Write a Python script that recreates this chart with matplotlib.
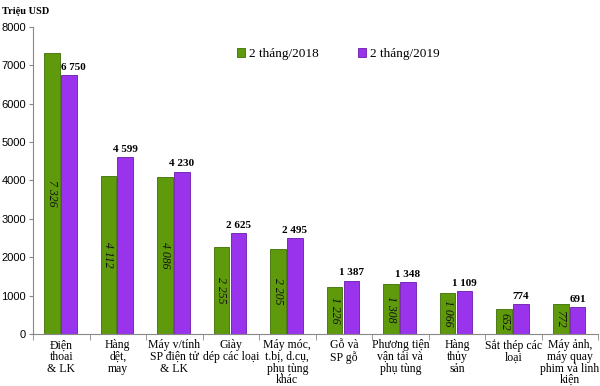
import matplotlib.pyplot as plt
import numpy as np

# Data
categories = ['Điện\nthoai\n& LK', 'Hàng\ndệt,\nmay', 'Máy v/tính\nSP điện tử\n& LK',
              'Giày\ndép các loại', 'Máy móc,\nt.bị, d.cụ,\nphụ tùng\nkhác', 'Gỗ và\nSP gỗ',
              'Phương tiện\nvận tải và\nphụ tùng', 'Hàng\nthủy\nsản', 'Sắt thép các\nloại',
              'Máy ảnh,\nmáy quay\nphim và linh\nkiện']
val_2018 = [7326, 4112, 4086, 2255, 2205, 1226, 1308, 1066, 652, 772]
val_2019 = [6750, 4599, 4230, 2625, 2495, 1387, 1348, 1109, 774, 691]
series_names = ['2 tháng/2018', '2 tháng/2019']

green = '#5e9a0c'
purple = '#9a34ec'
serif = 'Liberation Serif'

def fmt(v):
    return f'{v:,}'.replace(',', ' ')

fig = plt.figure(figsize=(6, 3.86), dpi=100)
ax = fig.add_axes([0.055, 0.135, 0.942, 0.795])

x = np.arange(len(categories))
w = 0.28
ax.bar(x - 0.165, val_2018, w, color=green, edgecolor='#3f6e05', linewidth=0.6,
       label=series_names[0])
ax.bar(x + 0.135, val_2019, w, color=purple, edgecolor='#6a1aa8', linewidth=0.6,
       label=series_names[1])

for xi, v in zip(x, val_2018):
    ax.text(xi - 0.165, v / 2, fmt(v), rotation=270, ha='center', va='center',
            fontsize=8.5, style='italic', family=serif, color='#111111')
for i, (xi, v) in enumerate(zip(x, val_2019)):
    # nudge label right when the green bar next to it is taller
    dx = 0.22 if val_2018[i] > v + 200 else 0.135
    ax.text(xi + dx, v + 90, fmt(v), ha='center', va='bottom',
            fontsize=8, fontweight='bold', family=serif)

ax.set_xlim(-0.5, len(categories) - 0.5)
ax.set_ylim(0, 8000)
ax.set_yticks(range(0, 8001, 1000))
ax.tick_params(axis='y', labelsize=8, length=3, color='#888888', pad=2)
for lbl in ax.get_yticklabels():
    lbl.set_family('Liberation Sans')

ax.set_xticks(x)
ax.set_xticklabels(categories, family=serif, fontsize=8.5, linespacing=0.95)
ax.tick_params(axis='x', length=0, pad=4)
ax.set_xticks(np.arange(len(categories) + 1) - 0.5, minor=True)
ax.tick_params(axis='x', which='minor', length=4, color='#888888')

for s in ['top', 'right']:
    ax.spines[s].set_visible(False)
for s in ['left', 'bottom']:
    ax.spines[s].set_color('#888888')

ax.legend(loc='upper left', bbox_to_anchor=(0.34, 0.97), ncol=2, frameon=False,
          prop={'family': serif, 'size': 9.5}, handlelength=0.6, handleheight=0.6,
          columnspacing=3.0, handletextpad=0.3)

fig.text(0.003, 0.982, 'Triệu USD', family=serif, fontsize=7.5, fontweight='bold',
         va='top', ha='left')

fig.savefig('out.png', dpi=100)
